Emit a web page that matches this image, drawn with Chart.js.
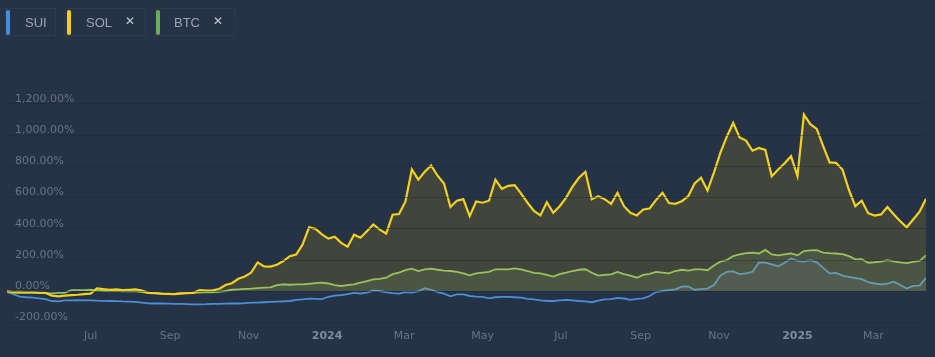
<!DOCTYPE html>
<html>
<head>
<meta charset="utf-8">
<script src="https://cdn.jsdelivr.net/npm/chart.js@4.4.1/dist/chart.umd.min.js"></script>
<style>
  html, body { margin:0; padding:0; background:#263246; }
  #wrap { position:relative; width:935px; height:357px; overflow:hidden; }
  canvas { position:absolute; left:0; top:0; }
  .leg { position:absolute; top:8px; height:28px; border:1px solid #2d3a50; box-sizing:border-box;
         font-family:"Liberation Sans", Arial, sans-serif; font-size:13px; color:#9aa4b6; }
  .leg .bar { position:absolute; left:0; top:1px; width:4px; height:25px; border-radius:2px; }
  .leg .t { position:absolute; top:6px; }
  .leg .x { position:absolute; top:5px; font-family:"DejaVu Sans", sans-serif; font-size:12px; font-weight:bold; color:#c4cad6; }
</style>
</head>
<body>
<div id="wrap">
  <canvas id="c" width="935" height="357"></canvas>
  <div class="leg" style="left:5px;width:51px;"><div class="bar" style="background:#3f8fe0"></div><span class="t" style="left:19px">SUI</span></div>
  <div class="leg" style="left:65px;width:81px;"><div class="bar" style="background:#f2d11c;left:1px"></div><span class="t" style="left:20px">SOL</span><span class="x" style="left:59px">✕</span></div>
  <div class="leg" style="left:155px;width:81px;"><div class="bar" style="background:#6aae4e"></div><span class="t" style="left:18px">BTC</span><span class="x" style="left:57px">✕</span></div>
</div>
<script>
// ---- data: % change since start, one value every 5 days from START_DATE ----
const START_DATE = '2023-04-27';
const STEP_DAYS = 5;

const SOL = [0,-5,-3,-6,-5,-8,-10,-28,-32,-28,-25,-22,-18,-15,19,14,10,12,8,10,
  12,4,-10,-12,-15,-16,-18,-15,-12,-10,8,5,6,15,40,52,80,95,120,185,
  160,158,170,194,225,235,300,410,400,364,337,350,310,285,362,343,385,428,395,370,
  490,495,575,780,715,765,805,740,690,540,580,590,481,575,567,580,715,656,675,680,
  625,567,515,486,570,503,545,600,670,727,765,590,609,590,560,631,545,503,486,524,
  530,585,631,565,560,577,609,690,727,645,760,886,990,1078,985,965,900,918,905,737,
  780,820,865,737,1131,1070,1040,930,825,822,780,650,545,580,500,485,492,540,492,449,
  410,460,510,592];

const BTC = [0,-8,-10,-8,-10,-12,-12,-13,-10,-10,8,8,8,10,5,2,2,3,0,2,
  0,-5,-10,-12,-15,-18,-17,-12,-10,-8,-8,-5,-6,-4,2,10,13,15,17,20,
  23,25,40,45,42,45,44,48,52,55,50,40,34,40,45,55,65,77,80,87,
  110,120,135,145,130,140,145,138,132,130,124,115,102,115,120,124,141,140,141,147,
  140,130,118,115,105,94,110,119,130,138,141,119,100,105,109,124,110,100,87,105,
  112,124,120,115,130,138,132,141,140,135,165,190,200,226,236,245,247,242,265,236,
  230,236,242,230,258,262,264,248,244,242,238,225,205,206,183,186,190,200,192,185,
  180,188,195,230];

const SUI = [-4,-19,-34,-38,-40,-45,-50,-62,-64,-58,-58,-57,-58,-58,-60,-61,-62,-63,-65,-66,
  -68,-73,-77,-78,-78,-79,-80,-81,-82,-83,-83,-82,-80,-80,-79,-78,-78,-76,-73,-72,
  -70,-68,-66,-64,-62,-55,-52,-47,-48,-50,-35,-27,-25,-18,-10,-14,-8,5,2,-6,
  -12,-15,-5,-8,0,20,10,-5,-15,-32,-20,-20,-30,-34,-36,-45,-38,-36,-35,-38,
  -40,-48,-52,-58,-62,-62,-58,-55,-58,-62,-64,-70,-60,-52,-50,-42,-46,-55,-48,-45,
  -30,-5,2,8,12,30,32,10,14,17,40,100,125,128,110,115,125,185,183,172,
  160,183,210,195,190,200,185,150,115,118,100,92,85,78,58,50,45,49,62,40,
  18,35,36,87];

const X_TICK_DATES = ['2023-07-01','2023-09-01','2023-11-01','2024-01-01','2024-03-01','2024-05-01',
  '2024-07-01','2024-09-01','2024-11-01','2025-01-01','2025-03-01'];
const X_TICK_LABELS = ['Jul','Sep','Nov','2024','Mar','May','Jul','Sep','Nov','2025','Mar'];
const X_TICK_BOLD = ['2024','2025'];
const Y_TICKS = [-200,0,200,400,600,800,1000,1200];

// ---- helpers ----
const DAY = 86400000;
const t0 = Date.parse(START_DATE + 'T00:00:00Z');
const dayOf = s => Math.round((Date.parse(s + 'T00:00:00Z') - t0) / DAY);
const pts = arr => arr.map((v, i) => ({ x: i * STEP_DAYS, y: v }));
const xTickDays = X_TICK_DATES.map(dayOf);
const lastDay = (SOL.length - 1) * STEP_DAYS;

const ds = (label, arr, color, fillCol, width, order) => ({
  label, data: pts(arr), borderColor: color, borderWidth: width,
  pointRadius: 0, tension: 0, order,
  fill: { target: 'origin', above: fillCol, below: 'rgba(0,0,0,0)' }
});

new Chart(document.getElementById('c'), {
  type: 'line',
  data: {
    datasets: [
      ds('SUI', SUI, '#4a8fd6', 'rgba(120,140,220,0.12)', 1.8, 3),
      ds('SOL', SOL, '#f2d21e', 'rgba(245,200,0,0.13)', 2.2, 1),
      ds('BTC', BTC, '#8dc26a', 'rgba(130,190,130,0.13)', 1.8, 2)
    ]
  },
  options: {
    responsive: false,
    animation: false,
    layout: { padding: { left: 7, right: 9, top: 57, bottom: 13 } },
    plugins: { legend: { display: false }, tooltip: { enabled: false } },
    scales: {
      x: {
        type: 'linear', min: 0, max: lastDay,
        grid: { display: false, drawTicks: false },
        border: { display: false },
        afterBuildTicks: s => { s.ticks = xTickDays.map(v => ({ value: v })); },
        ticks: {
          autoSkip: false, maxRotation: 0, padding: 1,
          color: ctx => X_TICK_BOLD.includes(X_TICK_LABELS[ctx.index]) ? '#7f8ba0' : '#66738a',
          font: ctx => ({ family: 'DejaVu Sans', size: 11,
            weight: X_TICK_BOLD.includes(X_TICK_LABELS[ctx.index]) ? 'bold' : 'normal' }),
          callback: (v, i) => X_TICK_LABELS[i]
        }
      },
      y: {
        min: -240, max: 1500,
        afterFit: s => { s.width = 0; },
        afterBuildTicks: s => { s.ticks = Y_TICKS.map(v => ({ value: v })); },
        grid: { color: 'rgba(30,40,56,0.45)', lineWidth: 1, drawTicks: false, z: 1 },
        border: { display: false },
        ticks: {
          mirror: true, padding: 8, labelOffset: -5,
          color: '#66738a',
          font: { family: 'DejaVu Sans', size: 11 },
          callback: v => v.toLocaleString('en-US', { minimumFractionDigits: 2, maximumFractionDigits: 2 }) + '%'
        }
      }
    }
  }
});
</script>
</body>
</html>
